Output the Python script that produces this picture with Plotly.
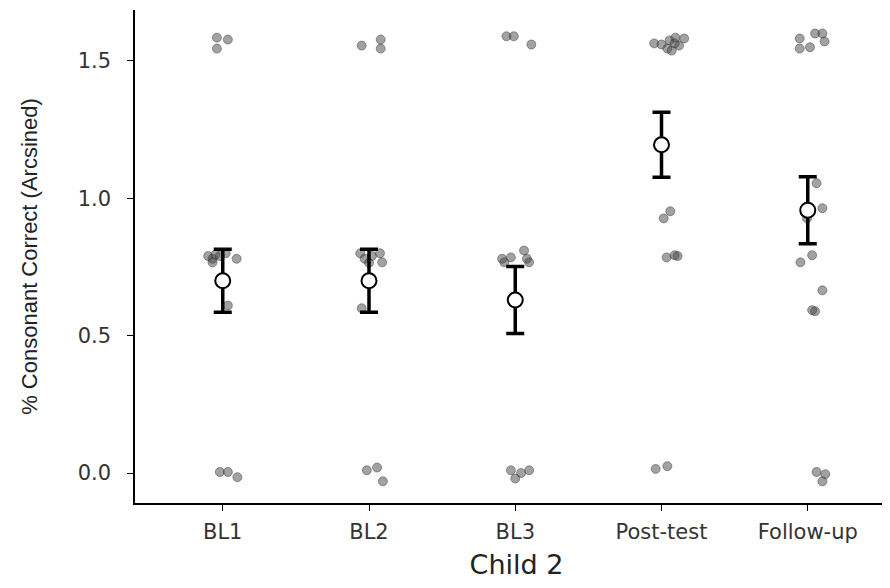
import plotly.graph_objects as go

categories = ["BL1", "BL2", "BL3", "Post-test", "Follow-up"]

# Individual item scores (jittered): category index, jitter offset, value
pt_cat = ([0]*14 + [1]*13 + [2]*13 + [3]*16 + [4]*17)
pt_jit = [
    # BL1
    -0.04, 0.035, -0.04, -0.10, -0.07, -0.05, -0.02, 0.02, 0.095, -0.07, 0.035, -0.02, 0.035, 0.10,
    # BL2
    -0.05, 0.08, 0.08, -0.06, -0.03, 0.02, 0.075, 0.09, 0.0, -0.05, -0.015, 0.055, 0.095,
    # BL3
    -0.06, -0.01, 0.11, -0.075, -0.03, 0.06, 0.08, 0.095, -0.09, -0.03, 0.0, 0.095, 0.04,
    # Post-test
    -0.05, 0.0, 0.055, 0.095, 0.12, 0.04, 0.07, 0.155, 0.09, 0.06, 0.015, 0.035, 0.09, 0.11, -0.04, 0.04,
    # Follow-up
    -0.055, 0.05, 0.10, 0.115, -0.055, 0.015, 0.06, 0.10, -0.005, 0.03, -0.05, 0.10, 0.05, 0.03, 0.06, 0.12, 0.10,
]
pt_val = [
    # BL1
    1.585, 1.578, 1.545, 0.79, 0.78, 0.795, 0.79, 0.80, 0.78, 0.767, 0.61, 0.004, 0.004, -0.015,
    # BL2
    1.556, 1.578, 1.545, 0.80, 0.78, 0.79, 0.80, 0.767, 0.765, 0.60, 0.01, 0.02, -0.03,
    # BL3
    1.59, 1.59, 1.56, 0.767, 0.785, 0.81, 0.78, 0.767, 0.78, 0.01, -0.02, 0.01, 0.0,
    # Post-test
    1.564, 1.56, 1.575, 1.585, 1.556, 1.545, 1.538, 1.582, 1.564, 0.953, 0.927, 0.785, 0.793, 0.79, 0.015, 0.025,
    # Follow-up
    1.582, 1.60, 1.60, 1.571, 1.545, 1.55, 1.055, 0.964, 0.927, 0.793, 0.767, 0.665, 0.589, 0.593, 0.004, -0.004, -0.03,
]

# Means and error bar half-widths
means = [0.70, 0.70, 0.63, 1.195, 0.957]
errors = [0.115, 0.115, 0.122, 0.118, 0.122]

pt_x = [c + j for c, j in zip(pt_cat, pt_jit)]

fig = go.Figure()
fig.add_trace(go.Scatter(
    x=pt_x, y=pt_val, mode="markers",
    marker=dict(size=9, color="rgba(70,70,70,0.5)",
                line=dict(width=1, color="rgba(50,50,50,0.45)")),
    showlegend=False, hoverinfo="y",
))
fig.add_trace(go.Scatter(
    x=list(range(len(categories))), y=means, mode="markers",
    marker=dict(size=15, color="white", line=dict(width=2, color="black")),
    error_y=dict(type="data", array=errors, visible=True, color="black",
                 thickness=3.5, width=9),
    showlegend=False,
))

fig.update_layout(
    width=890, height=588,
    paper_bgcolor="white", plot_bgcolor="white",
    margin=dict(l=127, r=0, t=2, b=93),
    font=dict(family="DejaVu Sans, sans-serif", color="#222"),
)
fig.update_xaxes(
    range=[-0.6, 4.617], tickvals=list(range(len(categories))), ticktext=categories,
    showline=True, linecolor="black", linewidth=1.5, ticks="outside", ticklen=6,
    tickcolor="black", tickfont=dict(family="DejaVu Sans", size=21, color="#333"),
    ticklabelstandoff=3,
    showgrid=False, zeroline=False,
    title=dict(text="Child 2", font=dict(family="DejaVu Sans", size=27, color="#222"), standoff=12),
)
fig.update_yaxes(
    range=[-0.109, 1.6856], tickvals=[0, 0.5, 1.0, 1.5], ticktext=["0.0", "0.5", "1.0", "1.5"],
    showline=True, linecolor="black", linewidth=1.5, ticks="outside", ticklen=6,
    tickcolor="black", tickfont=dict(family="DejaVu Sans", size=21, color="#333"),
    ticklabelstandoff=12,
    showgrid=False, zeroline=False,
    title=dict(text="% Consonant Correct (Arcsined)",
               font=dict(family="Liberation Sans, sans-serif", size=22, color="#222"),
               standoff=34),
)

fig.write_html("out.html")
